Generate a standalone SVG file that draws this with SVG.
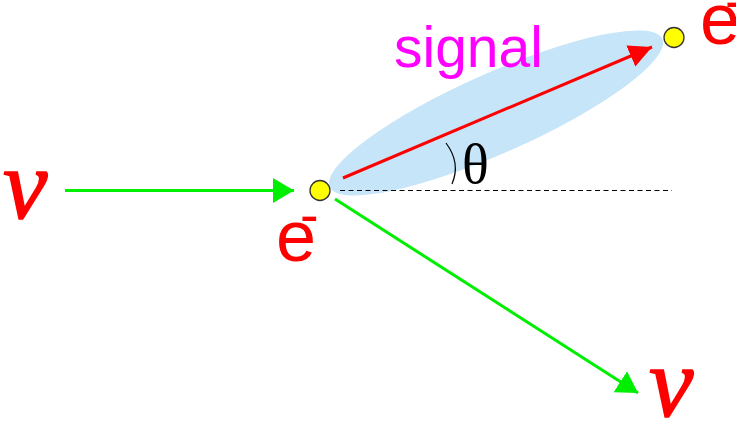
<svg xmlns="http://www.w3.org/2000/svg" width="736" height="422" viewBox="0 0 736 422">
<style>
.nu{font-family:"Liberation Serif","DejaVu Serif",serif;font-style:italic;font-size:100px;fill:#ff0000;stroke:#ff0000;stroke-width:1.5}
.e{font-family:"Liberation Sans",Arial,sans-serif;font-size:72px;fill:#ff0000}
.minus{font-family:"Liberation Sans",Arial,sans-serif;font-size:56px;fill:#ff0000}
.dot{fill:#ffff00;stroke:#333;stroke-width:1.3}
.g{stroke:#00ee00;stroke-width:3;fill:none}
.r{stroke:#ff0000;stroke-width:3;fill:none}
</style>
<defs>
<marker id="ag" markerUnits="userSpaceOnUse" markerWidth="22" markerHeight="26" refX="21" refY="12.5" orient="auto"><path d="M0,0 L21,12.5 L0,25 z" fill="#00ee00"/></marker>
<marker id="ar" markerUnits="userSpaceOnUse" markerWidth="24" markerHeight="24" refX="23" refY="11.5" orient="auto"><path d="M0,0 L23,11.5 L0,23 z" fill="#ff0000"/></marker>
</defs>
<g id="signal-region">
<ellipse cx="496" cy="113" rx="182" ry="40" transform="rotate(-24 496 113)" fill="#c6e5f8"/>
<text x="394" y="67" font-family="Liberation Sans, Arial, sans-serif" font-size="57" fill="#ff00ff">signal</text>
</g>
<g id="connectors">
<line x1="340" y1="190.5" x2="672" y2="190.5" stroke="#000" stroke-width="1.2" stroke-dasharray="5,3.5"/>
<line class="g" x1="65" y1="190.5" x2="294" y2="190.5" marker-end="url(#ag)"/>
<line class="g" x1="335" y1="199" x2="638" y2="393" marker-end="url(#ag)"/>
<line class="r" x1="343" y1="178" x2="652" y2="47" marker-end="url(#ar)"/>
<path d="M446 143 Q461 163 452 184" fill="none" stroke="#000" stroke-width="1.2"/>
</g>
<g id="theta"><text x="462" y="183" font-family="Liberation Serif, Times New Roman, serif" font-size="56" fill="#000">θ</text></g>
<g id="nu-in"><text class="nu" x="3" y="218">ν</text></g>
<g id="nu-out"><text class="nu" x="649" y="416">ν</text></g>
<g id="electron-target">
<circle class="dot" cx="320" cy="190.5" r="10"/>
<text class="e" x="276" y="261">e</text>
<text class="minus" x="300" y="234">-</text>
</g>
<g id="electron-out">
<circle class="dot" cx="674" cy="37.5" r="10"/>
<text class="e" x="700" y="44">e</text>
<text class="minus" x="725" y="20">-</text>
</g>
</svg>
